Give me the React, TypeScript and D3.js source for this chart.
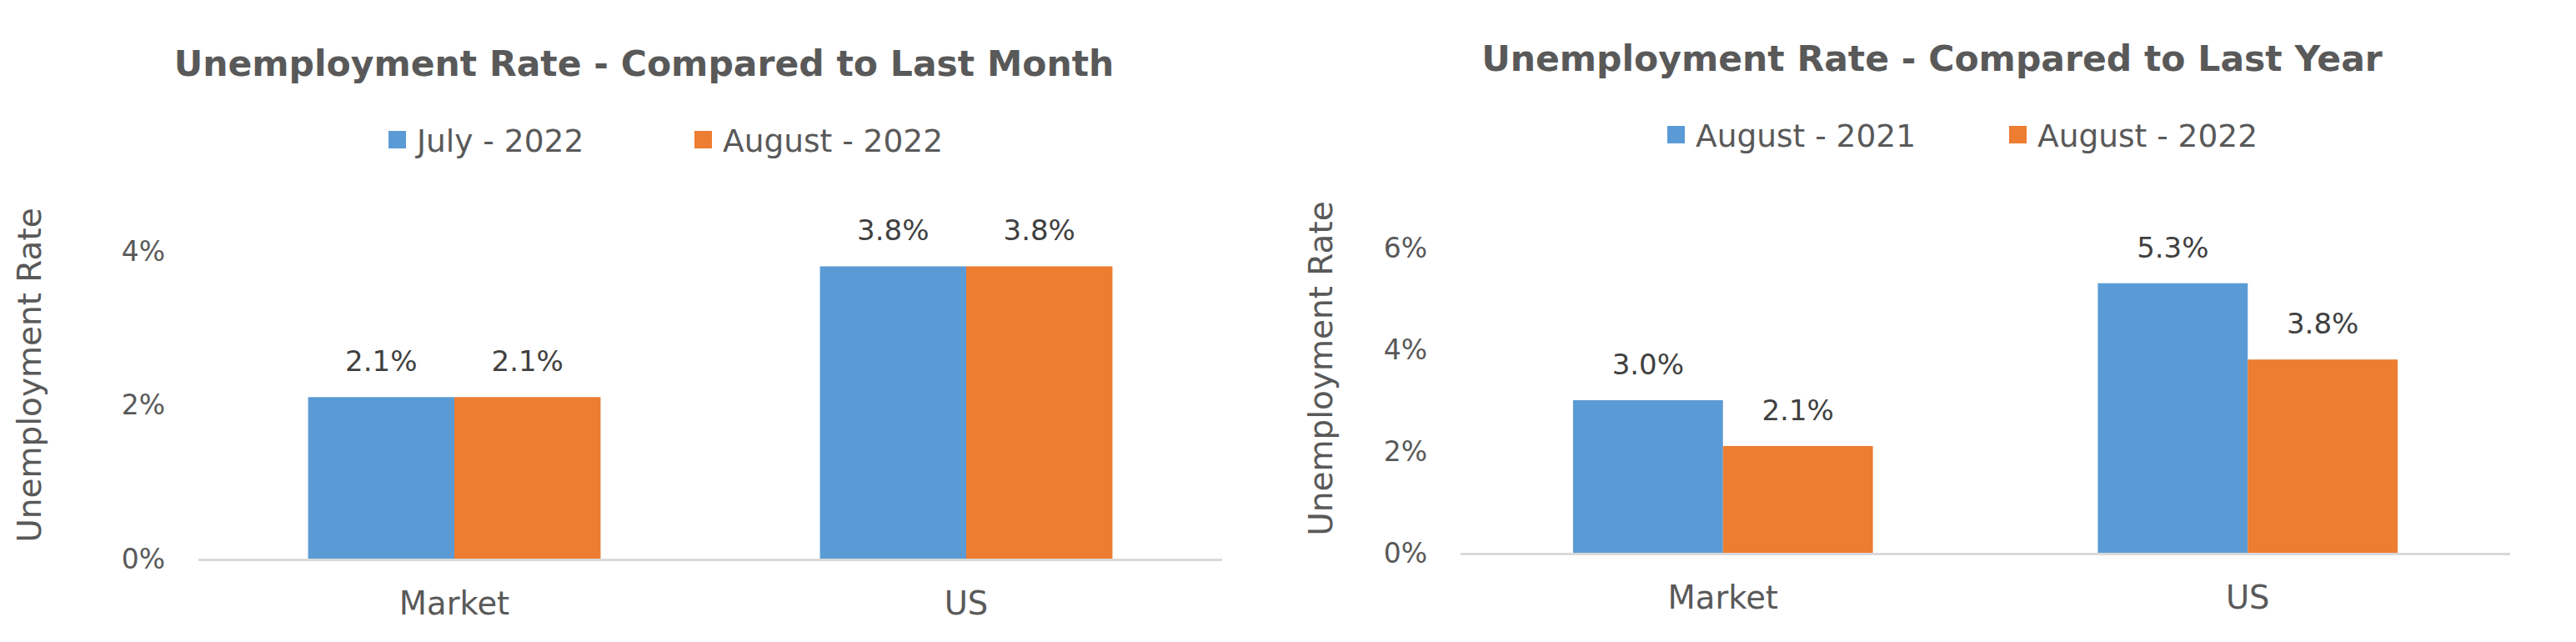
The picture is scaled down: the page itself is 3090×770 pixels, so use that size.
import React, { useRef, useEffect } from "react";
import * as d3 from "d3";

// data
const categories = ["Market", "US"];

const monthSeries = ["July - 2022", "August - 2022"];
const july2022 = [2.1, 3.8];
const august2022 = [2.1, 3.8];
const monthTicks = [0, 2, 4];

const yearSeries = ["August - 2021", "August - 2022"];
const august2021 = [3.0, 5.3];
const yearTicks = [0, 2, 4, 6];

const fontFamily = "'DejaVu Sans', 'Noto Sans', sans-serif";
const colors = ["#5B9BD5", "#ED7D31"];
const textColor = "#595959";
const labelColor = "#404040";

// layout of the two panels (pixels)
const panels = [
  {
    title: "Unemployment Rate - Compared to Last Month",
    series: monthSeries,
    values: [july2022, august2022],
    ticks: monthTicks,
    yMax: 5,
    left: 0,
    width: 1545,
    plotLeft: 238,
    plotRight: 1466,
    baseline: 670,
    top: 208.75,
    titleY: 91,
    legendY: 182,
    legendX: [466, 833],
    tickX: 198,
    yTitle: { x: 49, y: 450 }
  },
  {
    title: "Unemployment Rate - Compared to Last Year",
    series: yearSeries,
    values: [august2021, august2022],
    ticks: yearTicks,
    yMax: 7,
    left: 1545,
    width: 1545,
    plotLeft: 1752,
    plotRight: 3011,
    baseline: 663,
    top: 236,
    titleY: 85,
    legendY: 176,
    legendX: [2000, 2410],
    tickX: 1712,
    yTitle: { x: 1598, y: 442 }
  }
];

export default function App() {
  const ref = useRef<SVGSVGElement>(null);

  useEffect(() => {
    const width = 3090;
    const height = 770;
    const svg = d3.select(ref.current);
    svg.selectAll("*").remove();
    svg.attr("width", width).attr("height", height).style("font-family", fontFamily);

    svg.append("rect").attr("width", width).attr("height", height).attr("fill", "#fff");

    panels.forEach(p => {
      const g = svg.append("g");

      const x = d3.scaleBand<string>()
        .domain(categories)
        .range([p.plotLeft, p.plotRight])
        .paddingInner(1.5 / 3.5)
        .paddingOuter(0.75 / 3.5);

      const xs = d3.scaleBand<number>()
        .domain(d3.range(p.series.length))
        .range([0, x.bandwidth()]);

      const y = d3.scaleLinear().domain([0, p.yMax]).range([p.baseline, p.top]);

      // 标题
      g.append("text")
        .attr("x", p.left + p.width / 2)
        .attr("y", p.titleY)
        .attr("text-anchor", "middle")
        .attr("font-size", 42.5)
        .attr("font-weight", "bold")
        .attr("fill", textColor)
        .text(p.title);

      // 图例
      p.series.forEach((s, i) => {
        g.append("rect")
          .attr("x", p.legendX[i])
          .attr("y", p.legendY - 25)
          .attr("width", 21)
          .attr("height", 21)
          .attr("fill", colors[i]);
        g.append("text")
          .attr("x", p.legendX[i] + 34)
          .attr("y", p.legendY)
          .attr("font-size", 37.5)
          .attr("fill", textColor)
          .text(s);
      });

      // Y 轴刻度
      g.selectAll("text.tick")
        .data(p.ticks)
        .join("text")
        .attr("class", "tick")
        .attr("x", p.tickX)
        .attr("y", d => y(d))
        .attr("dy", "0.36em")
        .attr("text-anchor", "end")
        .attr("font-size", 33)
        .attr("fill", textColor)
        .text(d => d + "%");

      // Y 轴标题
      g.append("text")
        .attr("transform", `translate(${p.yTitle.x},${p.yTitle.y}) rotate(-90)`)
        .attr("text-anchor", "middle")
        .attr("font-size", 39)
        .attr("fill", textColor)
        .text("Unemployment Rate");

      // 柱子
      p.values.forEach((vals, si) => {
        g.selectAll(`rect.bar${si}`)
          .data(categories)
          .join("rect")
          .attr("class", `bar${si}`)
          .attr("x", c => (x(c) as number) + (xs(si) as number))
          .attr("y", (c, i) => y(vals[i]))
          .attr("width", xs.bandwidth())
          .attr("height", (c, i) => y(0) - y(vals[i]))
          .attr("fill", colors[si]);

        g.selectAll(`text.label${si}`)
          .data(categories)
          .join("text")
          .attr("class", `label${si}`)
          .attr("x", c => (x(c) as number) + (xs(si) as number) + xs.bandwidth() / 2)
          .attr("y", (c, i) => y(vals[i]) - 31)
          .attr("text-anchor", "middle")
          .attr("font-size", 34)
          .attr("fill", labelColor)
          .text((c, i) => vals[i].toFixed(1) + "%");
      });

      // X 轴线
      g.append("line")
        .attr("x1", p.plotLeft)
        .attr("x2", p.plotRight)
        .attr("y1", y(0) + 1.5)
        .attr("y2", y(0) + 1.5)
        .attr("stroke", "#D9D9D9")
        .attr("stroke-width", 3);

      // 类别标签
      g.selectAll("text.cat")
        .data(categories)
        .join("text")
        .attr("class", "cat")
        .attr("x", c => (x(c) as number) + x.bandwidth() / 2)
        .attr("y", p.baseline + 67)
        .attr("text-anchor", "middle")
        .attr("font-size", 38.5)
        .attr("fill", textColor)
        .text(c => c);
    });
  }, []);

  return <svg ref={ref} style={{ position: "absolute", left: 0, top: 0, display: "block" }}></svg>;
}
